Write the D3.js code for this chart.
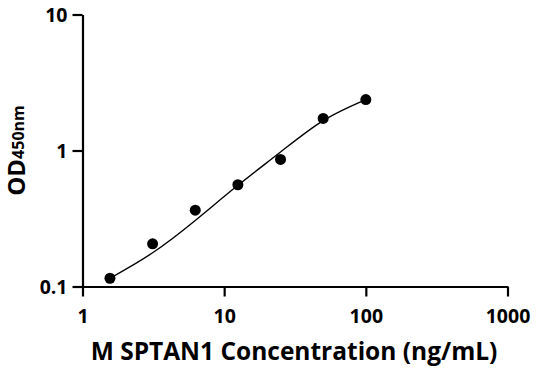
<!DOCTYPE html>
<html>
<head>
<meta charset="utf-8">
<script src="https://cdn.jsdelivr.net/npm/d3@7"></script>
<style>
  body { margin: 0; background: #fff; }
  svg { display: block; }
  text { font-family: "Open Sans", "DejaVu Sans", sans-serif; font-weight: bold; fill: #000; }
</style>
</head>
<body>
<svg id="chart" width="536" height="371"></svg>
<script>
// concentrations (ng/mL) and measured OD450
const conc = [1.5625, 3.125, 6.25, 12.5, 25, 50, 100]
const od = [0.115, 0.206, 0.364, 0.56, 0.86, 1.72, 2.37]

// fitted curve
const fit_x = [1.5625, 3.125, 6.25, 12.5, 25, 50, 100]
const fit_y = [0.115, 0.177, 0.306, 0.555, 0.975, 1.66, 2.37]

const x_ticks = [1, 10, 100, 1000]
const y_ticks = [0.1, 1, 10]

const x_title = 'M SPTAN1 Concentration (ng/mL)'

const svg = d3.select('#chart')

/* plot box */
const pad_left = 82.5, pad_right = 507.5, pad_top = 14.5, pad_bottom = 286.5

const x = d3.scaleLog().domain([1, 1000]).range([pad_left, pad_right])
const y = d3.scaleLog().domain([0.1, 10]).range([pad_bottom, pad_top])

/* axes */
const gx = svg.append('g')
    .attr('transform', `translate(0,${pad_bottom})`)
    .call(d3.axisBottom(x).tickValues(x_ticks).tickFormat(d3.format('d')).tickSize(10).tickSizeOuter(0))
gx.select('.domain').attr('stroke-width', 2.2)
gx.selectAll('.tick line').attr('stroke-width', 2.2)
gx.selectAll('.tick text')
    .attr('y', 36).attr('dy', 0)
    .style('font-size', '19.5px')

const gy = svg.append('g')
    .attr('transform', `translate(${pad_left},0)`)
    .call(d3.axisLeft(y).tickValues(y_ticks).tickFormat(d => d < 1 ? '0.1' : d3.format('d')(d)).tickSize(10).tickSizeOuter(0).tickPadding(5))
gy.select('.domain').attr('stroke-width', 2.2)
gy.selectAll('.tick line').attr('stroke-width', 2.2)
gy.selectAll('.tick text')
    .attr('dy', '0.36em')
    .style('font-size', '19.5px')

/* fitted line */
const line = d3.line()
    .x(d => x(d[0]))
    .y(d => y(d[1]))
    .curve(d3.curveNatural)

svg.append('path')
    .datum(d3.zip(fit_x, fit_y))
    .attr('d', line)
    .attr('fill', 'none')
    .attr('stroke', '#000')
    .attr('stroke-width', 1.4)

/* points */
svg.selectAll('.dot')
    .data(d3.zip(conc, od))
    .join('circle')
    .classed('dot', true)
    .attr('cx', d => x(d[0]))
    .attr('cy', d => y(d[1]))
    .attr('r', 5.5)
    .attr('fill', '#000')

/* titles */
svg.append('text')
    .attr('x', 294)
    .attr('y', 360)
    .attr('text-anchor', 'middle')
    .style('font-size', '24.5px')
    .text(x_title)

const yt = svg.append('text')
    .attr('transform', `translate(25,${(pad_top + pad_bottom) / 2})rotate(-90)`)
    .attr('text-anchor', 'middle')
yt.append('tspan').style('font-size', '24px').text('OD')
yt.append('tspan').style('font-size', '16px').attr('dy', -1).text('450nm')
</script>
</body>
</html>
